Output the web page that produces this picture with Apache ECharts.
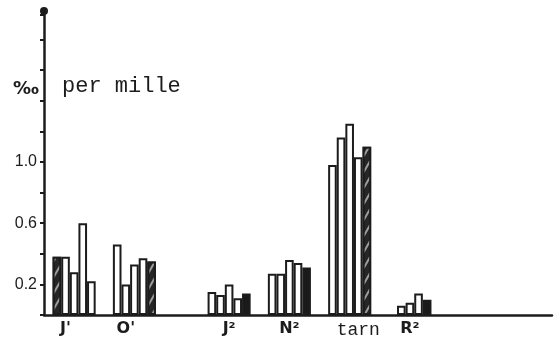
<!DOCTYPE html>
<html>
<head>
<meta charset="utf-8">
<script src="https://cdn.jsdelivr.net/npm/echarts@6/dist/echarts.min.js"></script>
<style>html,body{margin:0;padding:0;background:#fff}#c{width:556px;height:344px}</style>
</head>
<body>
<div id="c"></div>
<script>
// ---- data ----
const groups = ["J'", "O'", "J²", "N²", "tarn", "R²"];
const whiteValues = [
  [0.38, 0.28, 0.60, 0.22],
  [0.46, 0.20, 0.33, 0.37],
  [0.15, 0.13, 0.20, 0.11],
  [0.27, 0.27, 0.36, 0.34],
  [0.98, 1.16, 1.25, 1.03],
  [0.06, 0.08, 0.14]
];
const shadedValues = [0.38, 0.35, 0.14, 0.31, 1.10, 0.10];
const shadedKind = ['hatched', 'hatched', 'solid', 'solid', 'hatched', 'solid'];
const shadedFirst = [true, false, false, false, false, false];
const yTickLabels = ['0.2', '0.6', '1.0'];

// ---- layout (slot positions on the category axis) ----
const slotCount = 59;
const groupStartSlot = [1, 8, 19, 26, 33, 41];
const labelOffset = [1, 1, 2, 2, 3, 1];

const categories = new Array(slotCount).fill('');
const whiteData = new Array(slotCount).fill(null);
const hatchData = new Array(slotCount).fill(null);
const solidData = new Array(slotCount).fill(null);
groups.forEach((g, gi) => {
  const start = groupStartSlot[gi];
  categories[start + labelOffset[gi]] = g;
  let k = start;
  const target = shadedKind[gi] === 'hatched' ? hatchData : solidData;
  if (shadedFirst[gi]) { target[k] = shadedValues[gi]; k++; }
  whiteValues[gi].forEach(v => { whiteData[k] = v; k++; });
  if (!shadedFirst[gi]) { target[k] = shadedValues[gi]; }
});

const ink = '#1c1c1c';
const chart = echarts.init(document.getElementById('c'));
chart.setOption({
  backgroundColor: '#ffffff',
  animation: false,
  grid: { left: 44, right: 4, top: 15, bottom: 29 },
  xAxis: {
    type: 'category',
    data: categories,
    axisLine: { lineStyle: { color: ink, width: 2.5 } },
    axisTick: { show: false },
    axisLabel: {
      interval: 0,
      margin: 6,
      formatter: v => v === 'tarn' ? '{m|' + v + '}' : '{b|' + v + '}',
      rich: {
        b: { fontFamily: 'DejaVu Sans', fontWeight: 'bold', fontSize: 16, color: ink },
        m: { fontFamily: 'Liberation Mono', fontSize: 18, color: ink }
      }
    }
  },
  yAxis: {
    type: 'value',
    min: 0,
    max: 1.96,
    interval: 0.2,
    splitLine: { show: false },
    axisLine: { show: true, symbol: ['none', 'circle'], symbolSize: [8, 8], symbolOffset: [0, 4], lineStyle: { color: ink, width: 2.5 } },
    axisTick: { show: true, length: 4, lineStyle: { color: ink, width: 2 } },
    axisLabel: {
      margin: 7,
      fontFamily: 'Liberation Sans Narrow, Liberation Sans',
      fontSize: 16,
      color: ink,
      formatter: v => { const s = v.toFixed(1); return yTickLabels.indexOf(s) >= 0 ? s : ''; }
    }
  },
  series: [
    {
      type: 'bar', name: 'white', data: whiteData, barWidth: '100%', barGap: '-100%', barCategoryGap: '0%',
      itemStyle: { color: '#ffffff', borderColor: ink, borderWidth: 2 }
    },
    {
      type: 'bar', name: 'hatched', data: hatchData, barWidth: '100%', barGap: '-100%', barCategoryGap: '0%',
      itemStyle: {
        color: '#262626', borderColor: ink, borderWidth: 2,
        decal: { symbol: 'rect', symbolSize: 1, color: 'rgba(255,255,255,0.55)', dashArrayX: [[1, 0]], dashArrayY: [2, 6], rotation: -Math.PI / 3 }
      }
    },
    {
      type: 'bar', name: 'solid', data: solidData, barWidth: '100%', barGap: '-100%', barCategoryGap: '0%',
      itemStyle: { color: '#1a1a1a', borderColor: ink, borderWidth: 2 }
    }
  ],
  graphic: [
    { type: 'text', left: 13, top: 80, style: { text: '‰', fontFamily: 'DejaVu Sans', fontWeight: 'bold', fontSize: 18, fill: ink } },
    { type: 'text', left: 62, top: 75, style: { text: 'per mille', fontFamily: 'Liberation Mono', fontSize: 22, fill: ink } }
  ]
});
</script>
</body>
</html>
